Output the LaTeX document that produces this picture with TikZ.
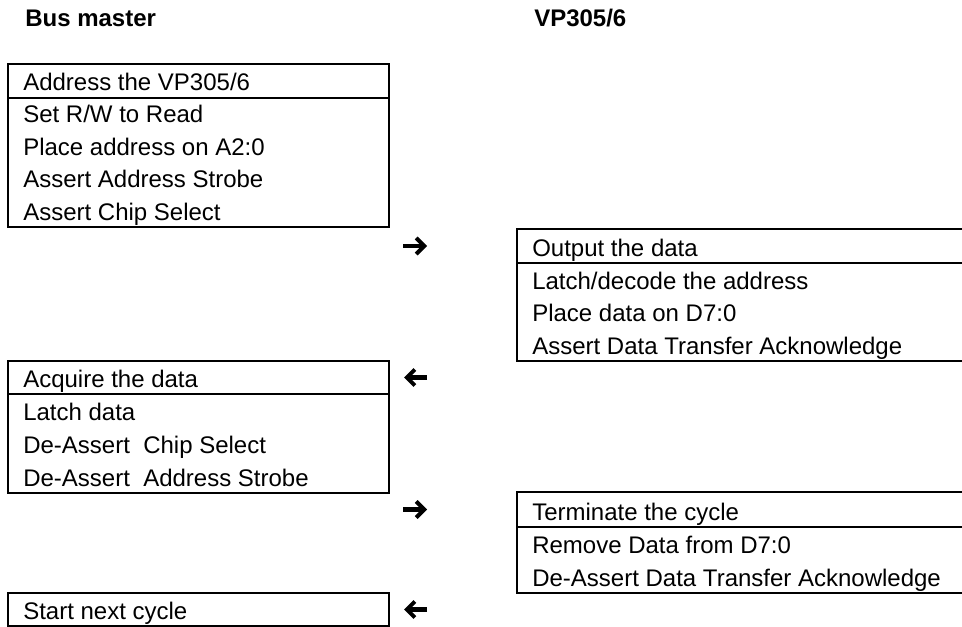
\documentclass[tikz,border=0pt]{standalone}
\usepackage{fontspec}
\setmainfont{Liberation Sans}
\usetikzlibrary{arrows.meta}

\begin{document}
\begin{tikzpicture}[x=0.75pt, y=-0.75pt,
	every node/.style={inner sep=0pt, anchor=base west, font=\fontsize{18}{22}\selectfont},
	head/.style={font=\fontsize{18}{22}\selectfont\bfseries},
	frame/.style={line width=2pt},
	handover/.style={line width=3.2pt, -{Straight Barb[length=6pt, width=12pt, line width=3pt]}}]

	\useasboundingbox (0,0) rectangle (962,627);

	\node[head] (master) at (25,27) {Bus master};
	\node[head] (slave) at (534,27) {VP305/6};

	% address phase
	\draw[frame] (8,64) rectangle (389,227);
	\draw[frame] (8,98) -- (389,98);
	\node (addr) at (23,91) {Address the VP305/6};
	\node (rw) at (23,123) {Set R/W to Read};
	\node (aline) at (23,155.5) {Place address on A2:0};
	\node (astb) at (23,188) {Assert Address Strobe};
	\node (csel) at (23,220) {Assert Chip Select};

	% data phase
	\draw[frame] (962,229) -| (517,361) -- (962,361);
	\draw[frame] (517,263) -- (962,263);
	\node (outp) at (532,256) {Output the data};
	\node (dec) at (532,289) {Latch/decode the address};
	\node (dline) at (532,321.5) {Place data on D7:0};
	\node (dtack) at (532,354) {Assert Data Transfer Acknowledge};

	\draw[frame] (8,361) rectangle (389,493);
	\draw[frame] (8,394) -- (389,394);
	\node (acq) at (23,387) {Acquire the data};
	\node (ldat) at (23,420) {Latch data};
	\node (dcs) at (23,453) {De-Assert~~Chip Select};
	\node (das) at (23,486) {De-Assert~~Address Strobe};

	% end of cycle
	\draw[frame] (962,492) -| (517,593) -- (962,593);
	\draw[frame] (517,527) -- (962,527);
	\node (term) at (532,520) {Terminate the cycle};
	\node (rem) at (532,553) {Remove Data from D7:0};
	\node (ddt) at (532,586) {De-Assert Data Transfer Acknowledge};

	\draw[frame] (8,593) rectangle (389,626);
	\node (next) at (23,619) {Start next cycle};

	\coordinate (go1) at (403,246);
	\coordinate (to1) at (427,246);
	\coordinate (go2) at (427,377.5);
	\coordinate (to2) at (404,377.5);
	\coordinate (go3) at (403,509.5);
	\coordinate (to3) at (427,509.5);
	\coordinate (go4) at (427,609.5);
	\coordinate (to4) at (404,609.5);

	\draw[handover] (go1) -- (to1);
	\draw[handover] (go2) -- (to2);
	\draw[handover] (go3) -- (to3);
	\draw[handover] (go4) -- (to4);

\end{tikzpicture}
\end{document}
